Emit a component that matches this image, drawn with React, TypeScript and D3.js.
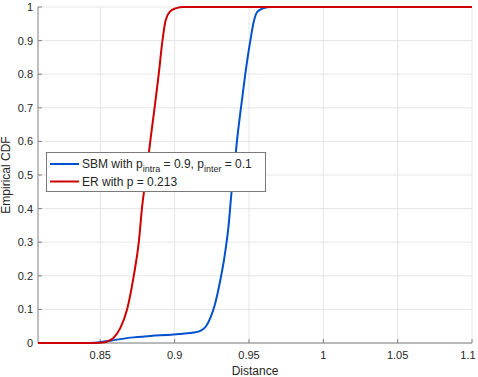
import React from "react";
import * as d3 from "d3";

const xTicks = [0.85, 0.9, 0.95, 1, 1.05, 1.1];
const yTicks = [0, 0.1, 0.2, 0.3, 0.4, 0.5, 0.6, 0.7, 0.8, 0.9, 1];

const sbmDistance = [0.8081, 0.8365, 0.8466, 0.8568, 0.8703, 0.8838, 0.8993, 0.9041, 0.913, 0.9176, 0.921, 0.9243, 0.9268, 0.9289, 0.9313, 0.9333, 0.9363, 0.9383, 0.9397, 0.9419, 0.9446, 0.9475, 0.9509, 0.9534, 0.9557, 0.9595, 0.9649, 1.1];
const sbmCdf = [0, 0, 0.001, 0.007, 0.016, 0.021, 0.025, 0.027, 0.031, 0.037, 0.049, 0.078, 0.11, 0.148, 0.2, 0.25, 0.35, 0.45, 0.5, 0.6, 0.7, 0.8, 0.9, 0.96, 0.986, 0.996, 1, 1];

const erDistance = [0.8081, 0.8466, 0.853, 0.855, 0.8588, 0.8635, 0.868, 0.8725, 0.8759, 0.878, 0.8809, 0.8836, 0.8865, 0.8893, 0.8918, 0.8939, 0.8968, 0.9007, 0.9061, 1.1];
const erCdf = [0, 0, 0.002, 0.005, 0.015, 0.045, 0.1, 0.2, 0.3, 0.4, 0.5, 0.6, 0.7, 0.8, 0.9, 0.96, 0.986, 0.996, 1, 1];

const seriesLabels = ["SBM", "ER"];
const seriesColors = ["#0052cc", "#cc0000"];

export default function App() {
  const W = 478, H = 377;
  const x = d3.scaleLinear().domain([0.8081, 1.1]).range([38, 472]);
  const y = d3.scaleLinear().domain([0, 1]).range([343, 7]);
  const line = d3.line<[number, number]>().x(d => x(d[0])).y(d => y(d[1])).curve(d3.curveMonotoneX);
  const sbm = sbmDistance.map((d, i) => [d, sbmCdf[i]] as [number, number]);
  const er = erDistance.map((d, i) => [d, erCdf[i]] as [number, number]);
  const font = "'Liberation Sans', Arial, sans-serif";
  const axisColor = "#808080";
  const textColor = "#262626";
  return (
    <svg width={W} height={H} style={{ position: "absolute", left: 0, top: 0, background: "#fff" }} fontFamily={font}>
      <rect x={0} y={0} width={W} height={H} fill="#fff" />
      {xTicks.map(t => (
        <line key={"gx" + t} x1={x(t)} x2={x(t)} y1={y(0)} y2={y(1)} stroke="#e6e6e6" strokeWidth={1} />
      ))}
      {yTicks.map(t => (
        <line key={"gy" + t} x1={x.range()[0]} x2={x.range()[1]} y1={y(t)} y2={y(t)} stroke="#e6e6e6" strokeWidth={1} />
      ))}
      <line x1={38} x2={472} y1={y(0)} y2={y(0)} stroke={axisColor} strokeWidth={1} />
      <line x1={38} x2={38} y1={y(0)} y2={y(1)} stroke={axisColor} strokeWidth={1} />
      {xTicks.map(t => (
        <g key={"xt" + t}>
          <line x1={x(t)} x2={x(t)} y1={y(0)} y2={y(0) - 4} stroke={axisColor} />
          <text x={Math.min(x(t), W - 10)} y={359} textAnchor="middle" fontSize={11} fill={textColor}>{String(t)}</text>
        </g>
      ))}
      {yTicks.map(t => (
        <g key={"yt" + t}>
          <line x1={38} x2={42} y1={y(t)} y2={y(t)} stroke={axisColor} />
          <text x={33} y={y(t) + 4} textAnchor="end" fontSize={11} fill={textColor}>{String(t)}</text>
        </g>
      ))}
      <text x={255} y={375} textAnchor="middle" fontSize={12} fill={textColor}>Distance</text>
      <text transform={`translate(10,${175}) rotate(-90)`} textAnchor="middle" fontSize={12} fill={textColor}>Empirical CDF</text>
      <path d={line(sbm) || ""} fill="none" stroke={seriesColors[0]} strokeWidth={2} />
      <path d={line(er) || ""} fill="none" stroke={seriesColors[1]} strokeWidth={2} />
      <rect x={46.5} y={152.5} width={219} height={39} fill="#fff" stroke="#7a7a7a" strokeWidth={1} />
      <line x1={50} x2={79} y1={164} y2={164} stroke={seriesColors[0]} strokeWidth={2} />
      <line x1={50} x2={79} y1={181.5} y2={181.5} stroke={seriesColors[1]} strokeWidth={2} />
      <text x={82} y={168} fontSize={12} fill={textColor}>
        {seriesLabels[0]} with p
        <tspan fontSize={9} dy={4}>intra</tspan>
        <tspan dy={-4}> = 0.9, p</tspan>
        <tspan fontSize={9} dy={4}>inter</tspan>
        <tspan dy={-4}> = 0.1</tspan>
      </text>
      <text x={82} y={186} fontSize={12} fill={textColor}>{seriesLabels[1]} with p = 0.213</text>
    </svg>
  );
}
